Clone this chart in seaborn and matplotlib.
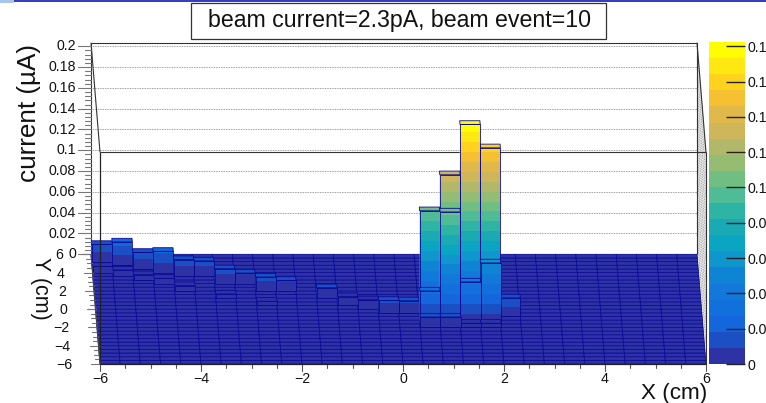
import numpy as np
import seaborn as sns
from matplotlib import pyplot as plt
from matplotlib.collections import PolyCollection
from matplotlib.colors import ListedColormap
from matplotlib.patches import Rectangle

WIDTH, HEIGHT = 766, 403
TITLE = 'beam current=2.3pA, beam event=10'
X_TXT = 'X (cm)'
Y_TXT = 'Y (cm)'
Z_TXT = 'current (\u00b5A)'

# lego cells that stick out of the floor, back part of the beam first
cell_x = [-6.0, -5.6, -5.2, -4.8, -4.4, -4.0, -3.6, -3.2, -2.8, -2.4, -1.6, -1.2, -0.8, -0.4, 0.0, 2.0,
          0.4, 0.8, 1.2, 1.6, 0.4, 0.8, 1.2, 1.6, 0.4, 0.8, 1.2, 1.6,
          -6.0, -5.6, -5.2, -4.8, -4.4, -3.6, -2.8]
cell_y = [5.2, 4.8, 4.4, 4.0, 3.6, 3.6, 2.8, 2.8, 2.0, 2.0, 1.2, 0.4, 0.0, -0.4, -0.4, -0.8,
          -1.2, -1.2, -1.2, -1.2, -1.6, -1.6, -1.6, -1.6, -2.0, -2.0, -2.0, -2.0,
          4.0, 3.6, 3.2, 2.8, 2.0, 1.2, 0.4]
cell_z = [0.0165, 0.0224, 0.0159, 0.0204, 0.016, 0.0147, 0.0142, 0.0101, 0.0133, 0.0101, 0.01, 0.0085,
          0.009, 0.0119, 0.0115, 0.0178,
          0.1052, 0.1398, 0.1882, 0.1657, 0.0315, 0.1075, 0.0402, 0.0585, 0.01, 0.01, 0.004, 0.004,
          0.006, 0.006, 0.005, 0.005, 0.005, 0.004, 0.004]

x_major = [-6, -4, -2, 0, 2, 4, 6]
y_major = [-6, -4, -2, 0, 2, 4, 6]
z_major = [0, 0.02, 0.04, 0.06, 0.08, 0.1, 0.12, 0.14, 0.16, 0.18, 0.2]
z_labels = ['0', '0.02', '0.04', '0.06', '0.08', '0.1', '0.12', '0.14', '0.16', '0.18', '0.2']
palette_values = [0, 0.02, 0.04, 0.06, 0.08, 0.1, 0.12, 0.14, 0.16, 0.18]
palette_labels = ['0', '0.0', '0.0', '0.0', '0.0', '0.1', '0.1', '0.1', '0.1', '0.1']
palette_hex = ['#2d32a5', '#1a50c4', '#1466dc', '#1270dc', '#1278da', '#0f84d4', '#0f96cd', '#0aa5c3',
               '#19aab4', '#2db4a5', '#4ebc96', '#70be82', '#94bc73', '#b2b869', '#d0b65a', '#e1b94b',
               '#f5c132', '#ffd21e', '#fde812', '#fffd00']

BIN = 0.4
BAND = 0.0095
PALETTE_MAX = 0.1824
# pixel scales of the oblique view
PX_X = 50.5
PX_Z = 1040.0
SHEAR_X = 9.0 / 12 / PX_X
SHEAR_Z = 109.7 / 12 / PX_Z
EDGE = '#0a0a96'
AXIS = '#333333'


def project(x, y, z=0.0):
    return x - (y + 6) * SHEAR_X, z + (y + 6) * SHEAR_Z


def quad(a, b, c, d):
    return [project(*a), project(*b), project(*c), project(*d)]


def band_of(z):
    return min(int(z / BAND), len(palette_hex) - 1)


def px_text(x, y, s, **kw):
    return fig.text(x / WIDTH, 1 - y / HEIGHT, s, **kw)


def line3(ax, a, b, **kw):
    p, q = project(*a), project(*b)
    ax.plot([p[0], q[0]], [p[1], q[1]], solid_capstyle='butt', **kw)


def draw_cell(ax, x, y, z):
    x1, y1 = x + BIN, y + BIN
    polys, colours = [], []
    # left side
    polys.append(quad((x, y, 0), (x, y1, 0), (x, y1, z), (x, y, z)))
    colours.append(palette_hex[band_of(z)])
    # front face split in palette bands
    for b in range(band_of(z) + 1):
        lo, hi = b * BAND, min((b + 1) * BAND, z)
        polys.append(quad((x, y, lo), (x1, y, lo), (x1, y, hi), (x, y, hi)))
        colours.append(palette_hex[b])
    # top
    polys.append(quad((x, y, z), (x1, y, z), (x1, y1, z), (x, y1, z)))
    colours.append(palette_hex[band_of(z)])
    ax.add_collection(PolyCollection(polys, facecolors=colours, edgecolors='none', zorder=3))
    outline = [quad((x, y, 0), (x1, y, 0), (x1, y, z), (x, y, z)),
               quad((x, y, z), (x1, y, z), (x1, y1, z), (x, y1, z))]
    ax.add_collection(PolyCollection(outline, facecolors='none', edgecolors=EDGE, linewidths=0.6, zorder=3))


sns.set_theme(style='white')
plt.rcParams['font.family'] = ['Liberation Sans', 'DejaVu Sans']

fig = plt.figure(figsize=(WIDTH / 100, HEIGHT / 100), dpi=100)
ax = fig.add_axes([0, 0, 1, 1])
ax.set_xlim(-6 - 100 / PX_X, -6 + (WIDTH - 100) / PX_X)
ax.set_ylim(-(HEIGHT - 364) / PX_Z, 364 / PX_Z)
ax.axis('off')

z_top = 0.2035
dots = dict(color='#666666', lw=0.55, ls=(0, (1, 1.2)), zorder=1)
solid = dict(color=AXIS, lw=0.8, zorder=2)

# back wall and right wall, with the dotted grid
for z in z_major:
    line3(ax, (-6, 6, z), (6, 6, z), **dots)
    line3(ax, (6, 6, z), (6, -6, z), **dots)
for z in [0.01, 0.03, 0.05, 0.07, 0.09, 0.11, 0.13, 0.15, 0.17, 0.19]:
    line3(ax, (6, 6, z), (6, -6, z), color='#bbbbbb', lw=0.6, ls=(0, (1, 1)), zorder=1)
line3(ax, (-6, 6, 0), (-6, 6, z_top), **solid)
line3(ax, (6, 6, 0), (6, 6, z_top), **solid)
line3(ax, (-6, 6, z_top), (6, 6, z_top), **solid)
line3(ax, (-6, -6, z_top), (6, -6, z_top), **solid)
line3(ax, (-6, 6, z_top), (-6, -6, z_top), **solid)
line3(ax, (6, 6, z_top), (6, -6, z_top), **solid)
line3(ax, (6, -6, 0), (6, -6, z_top), **solid)

# floor of empty bins
edges = np.arange(-6, 6, BIN)
floor = [quad((a, b, 0), (a + BIN, b, 0), (a + BIN, b + BIN, 0), (a, b + BIN, 0)) for a in edges for b in edges]
ax.add_collection(PolyCollection(floor, facecolors=palette_hex[0], edgecolors=EDGE, linewidths=0.55, zorder=2))

# back to front, right to left so nearer cells cover the others
for i in sorted(range(len(cell_x)), key=lambda n: (-cell_y[n], -cell_x[n])):
    draw_cell(ax, cell_x[i], cell_y[i], cell_z[i])

# front edges on top of the lego
top = dict(color='#222222', lw=0.9, zorder=5)
line3(ax, (-6, -6, 0), (-6, -6, z_top), **top)
line3(ax, (-6, -6, 0), (6, -6, 0), **top)
line3(ax, (-6, 6, 0), (-6, -6, 0), color='#444444', lw=0.8, zorder=5)

# X ticks
for v in np.arange(-6, 6.01, 0.5):
    length = 7 if v in x_major else 3.5
    sx, sz = project(v, -6)
    ax.plot([sx, sx], [sz, sz - length / PX_Z], color='#555555', lw=0.8, zorder=4)
for v in x_major:
    sx, _ = project(v, -6)
    label = str(v).replace('-', '\u2212')
    px_text(100 + (sx + 6) * PX_X, 379, label, ha='center', va='center', fontsize=10.2, color='#111111')

# Y ticks
for v in np.arange(-6, 6.01, 0.5):
    length = 9 if v in y_major else 5
    sx, sz = project(-6, v)
    ax.plot([sx - length / PX_X, sx], [sz, sz], color='#777777', lw=0.8, zorder=4)
for v in y_major:
    sx, sz = project(-6, v)
    label = str(v).replace('-', '\u2212')
    px_text(100 + (sx + 6) * PX_X - 28, 364 - sz * PX_Z + 1, label, ha='right', va='center', fontsize=10.2, color='#111111')

# Z ticks
sx0, sz0 = project(-6, 6)
for v in np.arange(0, 0.2001, 0.004):
    major = min(abs(v - m) for m in z_major) < 1e-6
    length = 13 if major else 6.5
    ax.plot([sx0 - length / PX_X, sx0], [sz0 + v, sz0 + v], color='#777777', lw=0.8, zorder=4)
for v, lab in zip(z_major, z_labels):
    px_text(76, 364 - (sz0 + v) * PX_Z, lab, ha='right', va='center', fontsize=10.2, color='#111111')

px_text(674, 393, X_TXT, ha='center', va='center', fontsize=16.2, color='#111111')
px_text(40, 288, Y_TXT, ha='center', va='center', rotation=-90, fontsize=15.5, color='#111111')
px_text(29, 113, Z_TXT, ha='center', va='center', rotation=90, fontsize=18.8, color='#111111')

# palette on the right
ax_pal = fig.add_axes([709 / WIDTH, 1 - 364 / HEIGHT, 36 / WIDTH, 322 / HEIGHT])
levels = np.arange(len(palette_hex))[::-1].reshape(-1, 1)
sns.heatmap(levels, ax=ax_pal, cmap=ListedColormap(palette_hex), cbar=False, xticklabels=False, yticklabels=False)
n_bands = len(palette_hex)
ax_pal.set_axisbelow(False)
ax_pal.yaxis.tick_right()
ax_pal.set_yticks([n_bands * (1 - v / PALETTE_MAX) for v in palette_values])
ax_pal.set_yticklabels(palette_labels, fontsize=10.2, color='#111111')
ax_pal.tick_params(axis='y', direction='in', length=13.5, width=1.0, color='#222222', pad=2, right=True, left=False)
ax_pal.set_ylim(n_bands, 0)
for sp in ax_pal.spines.values():
    sp.set_visible(False)

# title box and the slide strip at the very top
fig.add_artist(Rectangle((191 / WIDTH, 1 - 38.5 / HEIGHT), 415 / WIDTH, 35 / HEIGHT, transform=fig.transFigure,
                         facecolor='white', edgecolor='#333333', lw=0.9))
px_text(399.5, 20, TITLE, ha='center', va='center', fontsize=16.7, color='#111111')
fig.add_artist(Rectangle((0, 1 - 1.6 / HEIGHT), 1, 1.6 / HEIGHT, transform=fig.transFigure,
                         facecolor='#3c3cc0', edgecolor='none'))
fig.add_artist(Rectangle((0, 1 - 3.2 / HEIGHT), 14 / WIDTH, 3.2 / HEIGHT, transform=fig.transFigure,
                         facecolor='#a9c6e8', edgecolor='none'))

fig.savefig('out.png', dpi=100)
